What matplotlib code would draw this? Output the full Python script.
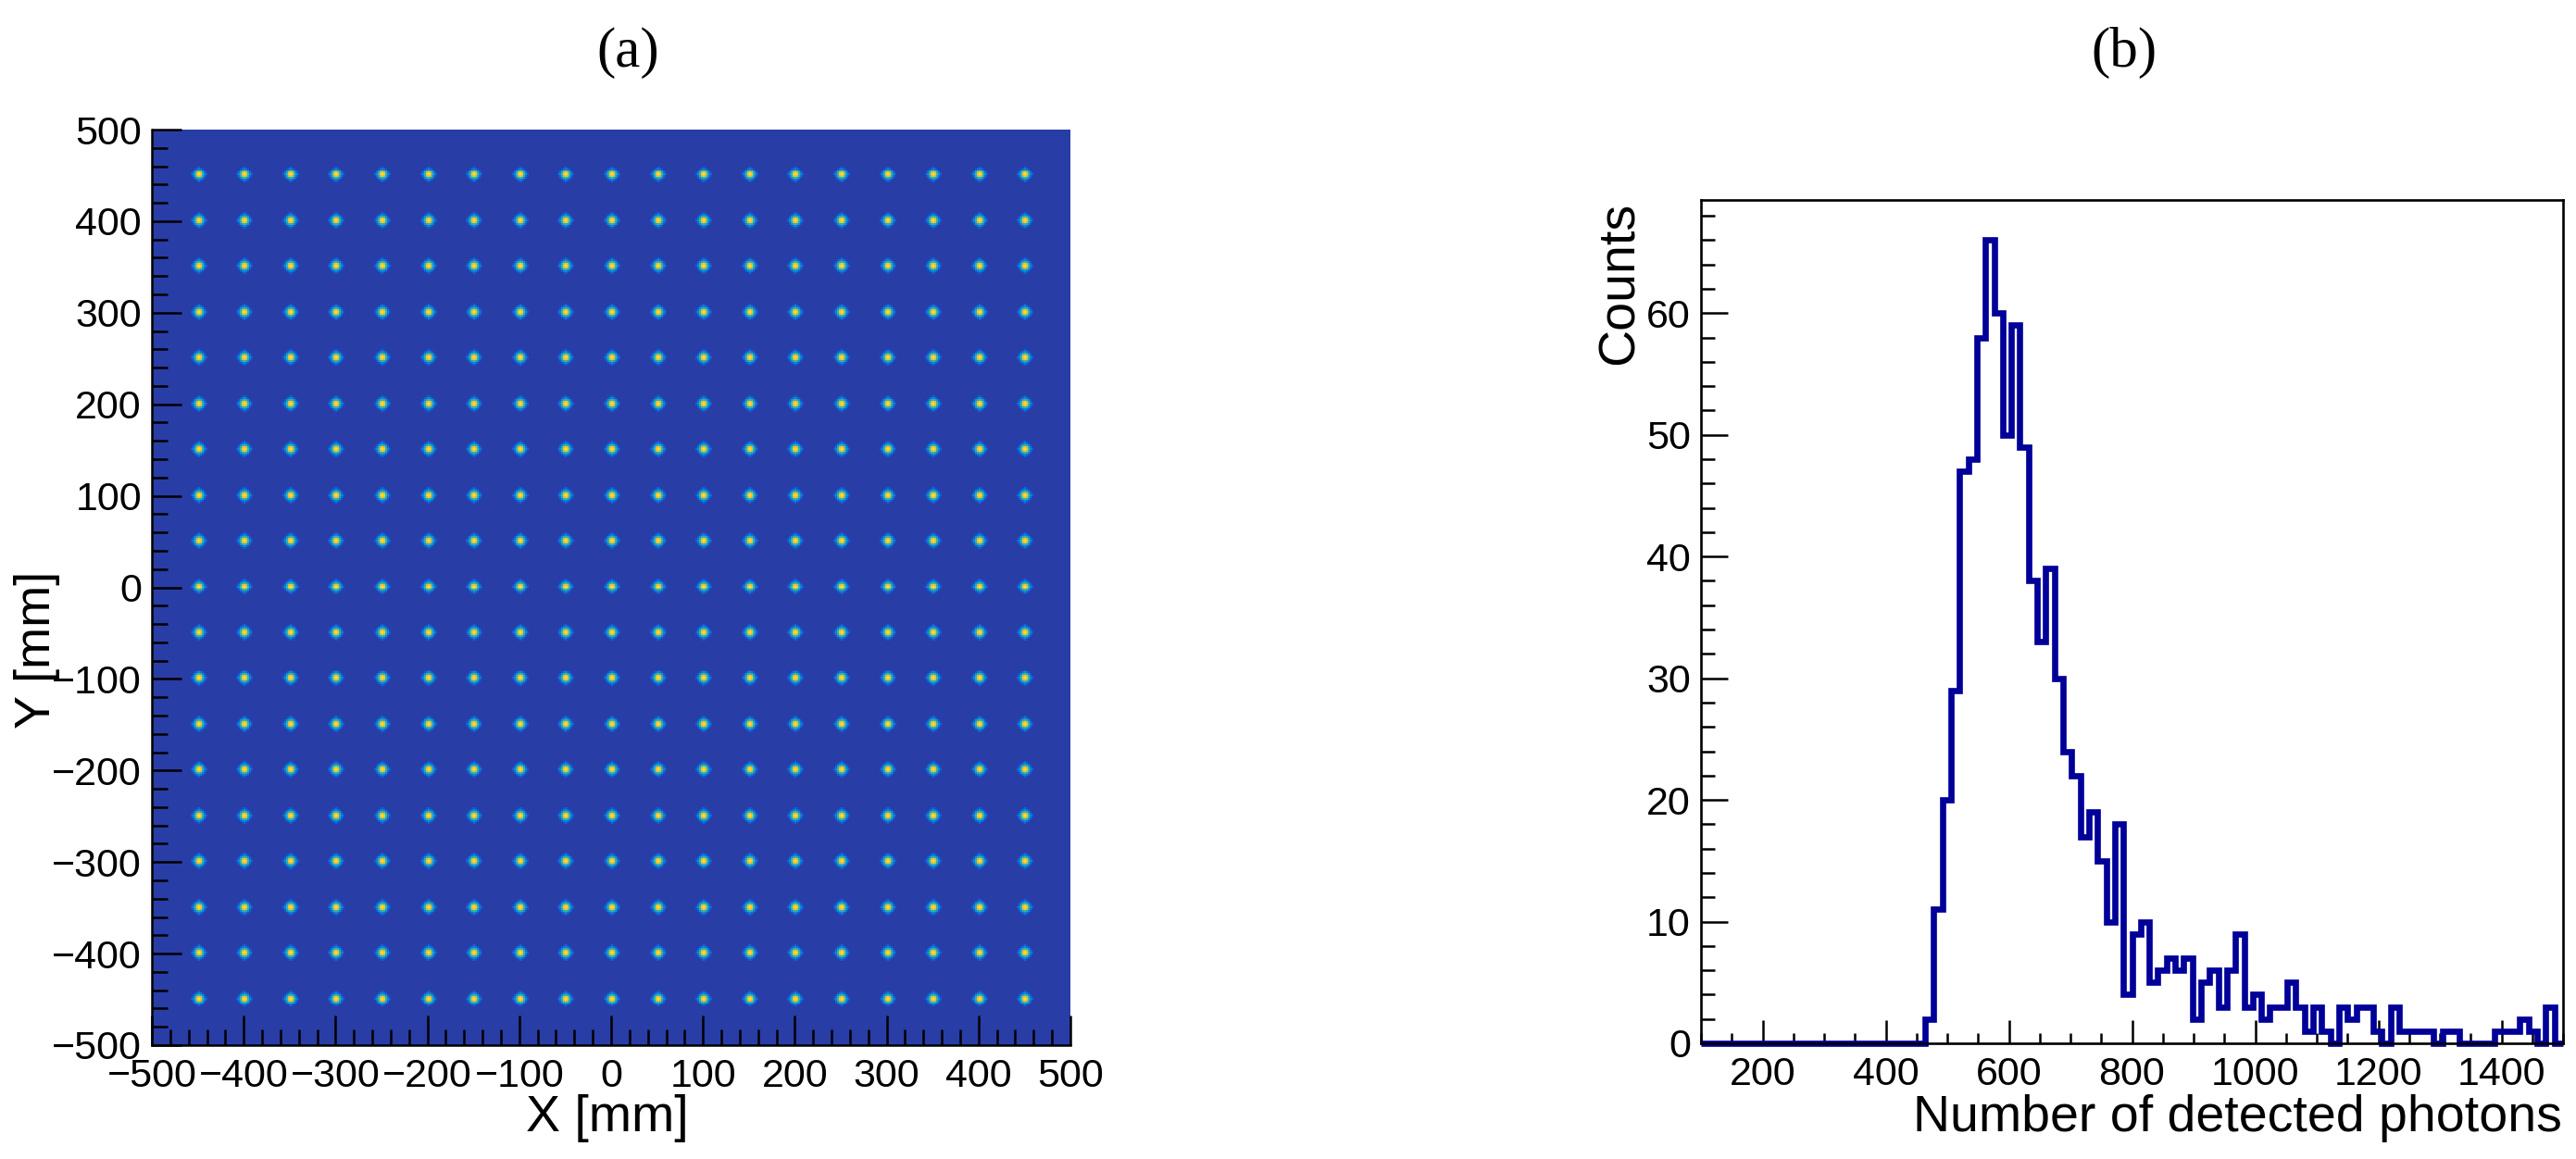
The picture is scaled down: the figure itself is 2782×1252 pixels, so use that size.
import numpy as np
import matplotlib.pyplot as plt
from matplotlib.colors import LinearSegmentedColormap
from matplotlib.ticker import MultipleLocator

# (a) light spots on a regular grid [mm]
spot_x = [-450, -400, -350, -300, -250, -200, -150, -100, -50, 0,
          50, 100, 150, 200, 250, 300, 350, 400, 450]
spot_y = [-450, -400, -350, -300, -250, -200, -150, -100, -50, 0,
          50, 100, 150, 200, 250, 300, 350, 400, 450]
# relative intensity around one spot centre, 2 mm cells
spot_profile = [
    [0.00, 0.00, 0.00, 0.05, 0.15, 0.05, 0.00, 0.00, 0.00],
    [0.00, 0.00, 0.10, 0.20, 0.28, 0.20, 0.10, 0.00, 0.00],
    [0.00, 0.10, 0.30, 0.45, 0.52, 0.45, 0.30, 0.10, 0.00],
    [0.05, 0.20, 0.45, 0.75, 0.85, 0.75, 0.45, 0.20, 0.05],
    [0.15, 0.28, 0.52, 0.85, 0.95, 0.85, 0.52, 0.28, 0.15],
    [0.05, 0.20, 0.45, 0.75, 0.85, 0.75, 0.45, 0.20, 0.05],
    [0.00, 0.10, 0.30, 0.45, 0.52, 0.45, 0.30, 0.10, 0.00],
    [0.00, 0.00, 0.10, 0.20, 0.28, 0.20, 0.10, 0.00, 0.00],
    [0.00, 0.00, 0.00, 0.05, 0.15, 0.05, 0.00, 0.00, 0.00],
]

# (b) number of detected photons, 100 bins between 100 and 1500
n_lo, n_hi, n_bins = 100, 1500, 100
counts = [
    0, 0, 0, 0, 0, 0, 0, 0, 0, 0,
    0, 0, 0, 0, 0, 0, 0, 0, 0, 0,
    0, 0, 0, 0, 0, 0, 2, 11, 20, 29,
    47, 48, 58, 66, 60, 50, 59, 49, 38, 33,
    39, 30, 24, 22, 17, 19, 15, 10, 18, 4,
    9, 10, 5, 6, 7, 6, 7, 2, 5, 6,
    3, 6, 9, 3, 4, 2, 3, 3, 5, 3,
    1, 3, 1, 0, 3, 2, 3, 3, 1, 0,
    3, 1, 1, 1, 1, 0, 1, 1, 0, 0,
    0, 0, 1, 1, 1, 2, 1, 0, 3, 0,
]

# ROOT kBird palette, lowest colour replaced by the map background
bird = LinearSegmentedColormap.from_list('bird', [
    (0.000, (0.157, 0.243, 0.651)),
    (0.125, (0.0592, 0.3599, 0.8684)),
    (0.250, (0.0780, 0.5041, 0.8385)),
    (0.375, (0.0232, 0.6419, 0.7914)),
    (0.500, (0.1802, 0.7178, 0.6425)),
    (0.625, (0.5301, 0.7492, 0.4662)),
    (0.750, (0.8186, 0.7328, 0.3499)),
    (0.875, (0.9956, 0.7862, 0.1968)),
    (1.000, (0.9764, 0.9832, 0.0539)),
])

plt.rcParams['font.family'] = ['Liberation Sans', 'DejaVu Sans']
fig = plt.figure(figsize=(27.82, 12.52), dpi=100)

# ---- (a) ----
ax1 = fig.add_axes([164 / 2782, 1 - 1129 / 1252, 992 / 2782, 989 / 1252])
cell = 2
nc = 1000 // cell
img = np.zeros((nc, nc))
prof = np.array(spot_profile)
h = prof.shape[0] // 2
for sy in spot_y:
    for sx in spot_x:
        iy = (sy + 500) // cell
        ix = (sx + 500) // cell
        img[iy - h:iy + h + 1, ix - h:ix + h + 1] += prof
ax1.imshow(img, extent=[-500, 500, -500, 500], origin='lower', cmap=bird,
           vmin=0, vmax=1.0, interpolation='nearest', aspect='auto')
ax1.set_xlim(-500, 500)
ax1.set_ylim(-500, 500)
ax1.xaxis.set_major_locator(MultipleLocator(100))
ax1.xaxis.set_minor_locator(MultipleLocator(20))
ax1.yaxis.set_major_locator(MultipleLocator(100))
ax1.yaxis.set_minor_locator(MultipleLocator(20))
ax1.tick_params(which='both', direction='in', width=1.8, labelsize=31,
                top=False, right=False)
ax1.tick_params(which='major', length=23, pad=8)
ax1.tick_params(which='minor', length=12)
ax1.tick_params(axis='x', pad=10)
for s in ['top', 'right']:
    ax1.spines[s].set_visible(False)
for s in ['left', 'bottom']:
    ax1.spines[s].set_linewidth(1.8)

fig.text(656 / 2782, 1 - 1208 / 1252, 'X [mm]', fontsize=40,
         ha='center', va='center')
fig.text(40 / 2782, 1 - 702 / 1252, 'Y [mm]', fontsize=39,
         ha='center', va='center', rotation=90)

# ---- (b) ----
ax2 = fig.add_axes([1837 / 2782, 1 - 1127 / 1252, 931 / 2782, 911 / 1252])
edges = np.linspace(n_lo, n_hi, n_bins + 1)
ax2.stairs(counts, edges, color='#000099', linewidth=4.8, baseline=None,
           clip_on=False, zorder=2)
ax2.set_xlim(n_lo, n_hi)
ax2.set_ylim(0, 69.3)
ax2.xaxis.set_major_locator(MultipleLocator(200))
ax2.xaxis.set_minor_locator(MultipleLocator(50))
ax2.yaxis.set_major_locator(MultipleLocator(10))
ax2.yaxis.set_minor_locator(MultipleLocator(2))
ax2.tick_params(which='both', direction='in', width=1.8, labelsize=31,
                top=False, right=False)
ax2.tick_params(axis='x', which='major', length=18, pad=10)
ax2.tick_params(axis='x', which='minor', length=8)
ax2.tick_params(axis='y', which='major', length=21, pad=8)
ax2.tick_params(axis='y', which='minor', length=11)
for s in ax2.spines.values():
    s.set_linewidth(1.9)
    s.set_zorder(3)

fig.text(2767 / 2782, 1 - 1208 / 1252, 'Number of detected photons',
         fontsize=40, ha='right', va='center')
fig.text(1750 / 2782, 1 - 218 / 1252, 'Counts', fontsize=40,
         ha='center', va='top', rotation=90)

fig.text(678 / 2782, 1 - 57 / 1252, '(a)', fontsize=44,
         family='Liberation Serif', ha='center', va='center')
fig.text(2294 / 2782, 1 - 57 / 1252, '(b)', fontsize=44,
         family='Liberation Serif', ha='center', va='center')

fig.savefig('out.png', dpi=100)
